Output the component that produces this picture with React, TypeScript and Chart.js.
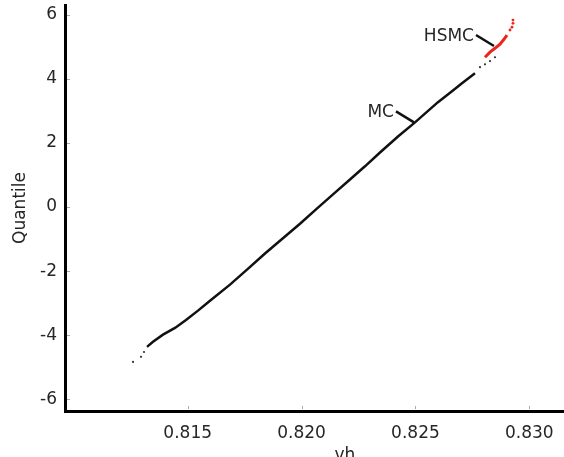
import { useEffect, useRef } from 'react';
import { Chart, registerables } from 'chart.js';

Chart.register(...registerables);

// Main Monte Carlo (MC) QQ curve
const mcX = [0.813213, 0.813476, 0.813915, 0.814442, 0.814925, 0.815452, 0.815979, 0.816857, 0.817604, 0.818394, 0.819053, 0.819931, 0.820721, 0.821468, 0.822126, 0.822785, 0.823444, 0.824234, 0.824981, 0.82599, 0.826605, 0.827044, 0.827615];
const mcY = [-4.36, -4.2, -3.98, -3.77, -3.52, -3.23, -2.92, -2.42, -1.95, -1.45, -1.05, -0.52, -0.02, 0.45, 0.86, 1.27, 1.7, 2.2, 2.64, 3.27, 3.61, 3.86, 4.17];
// MC sparse tail points
const mcTailX = [0.812598, 0.812949, 0.813081, 0.827835, 0.828054, 0.828274, 0.828493];
const mcTailY = [-4.83, -4.67, -4.52, 4.36, 4.45, 4.55, 4.67];
// HSMC curve and tail
const hsmcX = [0.828054, 0.828274, 0.828493, 0.828713, 0.828888, 0.82902];
const hsmcY = [4.67, 4.83, 4.95, 5.08, 5.23, 5.36];
const hsmcTailX = [0.829152, 0.82924, 0.829284, 0.829284];
const hsmcTailY = [5.52, 5.61, 5.73, 5.83];

const xTicks = [0.815, 0.82, 0.825, 0.83];
const xTickLabels = ['0.815', '0.820', '0.825', '0.830'];
const yTicks = [-6, -4, -2, 0, 2, 4, 6];
const yTickLabels = ['-6', '-4', '-2', '0', '2', '4', '6'];

const annLabels = ['MC', 'HSMC'];
const annX = [0.824937, 0.828449];
const annY = [2.64, 5.02];

const xTitle = 'vh';
const yTitle = 'Quantile';

const FONT = 'DejaVu Sans';
const TEXT = '#262626';

const pts = (xs: number[], ys: number[]) => xs.map((x, i) => ({ x, y: ys[i] }));

export default function App() {
  const ref = useRef<HTMLCanvasElement>(null);
  useEffect(() => {
    document.body.style.margin = '0';
    const extras = {
      id: 'extras',
      afterDraw(chart: any) {
        const { ctx, chartArea, scales } = chart;
        const xs = scales.x;
        const ys = scales.y;
        ctx.save();
        // inner tick marks
        ctx.strokeStyle = '#aaa';
        ctx.lineWidth = 1;
        xTicks.forEach((v) => {
          const px = Math.round(xs.getPixelForValue(v)) + 0.5;
          ctx.beginPath();
          ctx.moveTo(px, chartArea.bottom - 2);
          ctx.lineTo(px, chartArea.bottom - 5);
          ctx.stroke();
        });
        yTicks.forEach((v) => {
          const py = Math.round(ys.getPixelForValue(v)) + 0.5;
          ctx.beginPath();
          ctx.moveTo(chartArea.left + 2, py);
          ctx.lineTo(chartArea.left + 5, py);
          ctx.stroke();
        });
        // annotations
        ctx.font = `17px "${FONT}"`;
        ctx.fillStyle = TEXT;
        ctx.strokeStyle = '#111';
        ctx.lineWidth = 2.5;
        annLabels.forEach((lab, i) => {
          const ax = xs.getPixelForValue(annX[i]);
          const ay = ys.getPixelForValue(annY[i]);
          ctx.beginPath();
          ctx.moveTo(ax - 18, ay - 11);
          ctx.lineTo(ax, ay);
          ctx.stroke();
          ctx.textAlign = 'right';
          ctx.textBaseline = 'middle';
          ctx.fillText(lab, ax - 20, ay - 9.5);
        });
        // x title
        ctx.textAlign = 'center';
        ctx.textBaseline = 'alphabetic';
        const tx = chartArea.left + (chartArea.right - chartArea.left) * 0.561;
        ctx.fillText(xTitle, tx, chartArea.bottom + 49);
        ctx.restore();
      },
    };
    const chart = new Chart(ref.current!, {
      type: 'scatter',
      data: {
        datasets: [
          {
            label: 'MC',
            data: pts(mcX, mcY),
            showLine: true,
            borderColor: '#111',
            borderWidth: 2.5,
            pointRadius: 0,
            tension: 0,
          },
          {
            label: 'MC tail',
            data: pts(mcTailX, mcTailY),
            showLine: false,
            pointRadius: 1.1,
            pointBorderWidth: 0,
            backgroundColor: '#333',
          },
          {
            label: 'HSMC',
            data: pts(hsmcX, hsmcY),
            showLine: true,
            borderColor: '#e8261c',
            borderWidth: 3,
            pointRadius: 0,
          },
          {
            label: 'HSMC tail',
            data: pts(hsmcTailX, hsmcTailY),
            showLine: false,
            pointRadius: 1.4,
            pointBorderWidth: 0,
            backgroundColor: '#e8261c',
          },
        ],
      },
      options: {
        responsive: false,
        animation: false,
        layout: { autoPadding: false, padding: { top: 5, right: 0, left: 0, bottom: 0 } },
        plugins: { legend: { display: false }, tooltip: { enabled: false } },
        scales: {
          x: {
            type: 'linear',
            min: 0.809612,
            max: 0.831524,
            afterBuildTicks: (s: any) => {
              s.ticks = xTicks.map((v) => ({ value: v }));
            },
            afterFit: (s: any) => {
              s.height = 46;
              s.paddingLeft = 0;
              s.paddingRight = 0;
            },
            grid: { display: false, drawTicks: false },
            border: { display: true, color: '#000', width: 3 },
            ticks: {
              callback: (v: any) => xTickLabels[xTicks.indexOf(Number(v))],
              font: { family: FONT, size: 17 },
              color: TEXT,
              padding: 12,
              maxRotation: 0,
              autoSkip: false,
            },
          },
          y: {
            type: 'linear',
            min: -6.36,
            max: 6.3,
            afterBuildTicks: (s: any) => {
              s.ticks = yTicks.map((v) => ({ value: v }));
            },
            afterFit: (s: any) => {
              s.width = 65;
              s.paddingTop = 0;
              s.paddingBottom = 0;
            },
            grid: { display: false, drawTicks: false },
            border: { display: true, color: '#000', width: 3 },
            ticks: {
              callback: (v: any) => yTickLabels[yTicks.indexOf(Number(v))],
              font: { family: FONT, size: 17 },
              color: TEXT,
              padding: 8,
              autoSkip: false,
            },
            title: {
              display: true,
              text: yTitle,
              font: { family: FONT, size: 17 },
              color: TEXT,
              padding: { top: 10, bottom: 0 },
            },
          },
        },
      },
      plugins: [extras],
    });
    return () => chart.destroy();
  }, []);
  return (
    <div style={{ width: 564, height: 457 }}>
      <canvas ref={ref} width={564} height={457} style={{ display: 'block' }} />
    </div>
  );
}
